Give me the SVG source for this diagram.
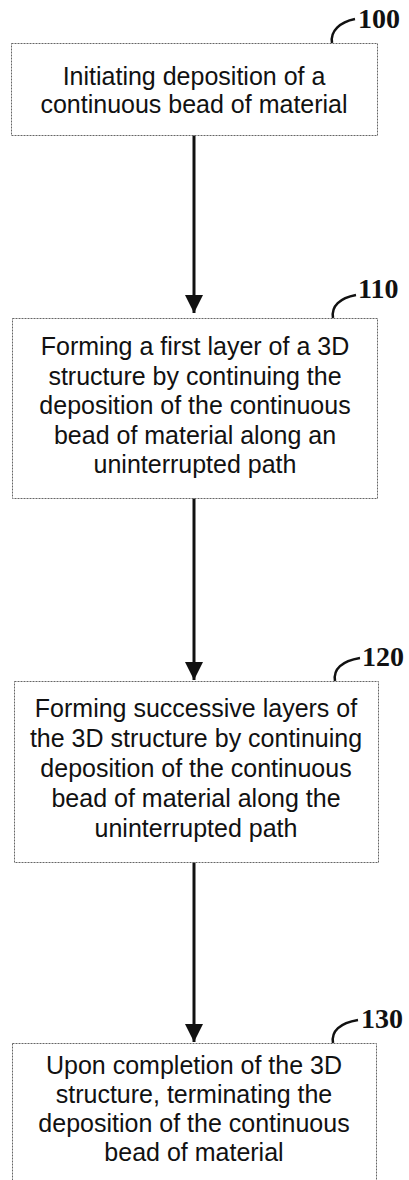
<svg xmlns="http://www.w3.org/2000/svg" width="409" height="1180" viewBox="0 0 409 1180">
<style>
.box{fill:#fff;stroke:#666;stroke-width:1;stroke-dasharray:2,1}
.t{font-family:"Liberation Sans",Arial,sans-serif;font-size:25px;fill:#111;text-anchor:middle}
.ref{font-family:"Liberation Serif","Times New Roman",serif;font-size:28px;font-weight:bold;fill:#111}
.lead{fill:none;stroke:#111;stroke-width:2.5}
.conn{stroke:#111;stroke-width:3;fill:none}
</style>
<defs>
<marker id="ah" markerWidth="6" markerHeight="6" refX="6" refY="3" orient="auto" markerUnits="strokeWidth">
<path d="M0,0 L6,3 L0,6 Z" fill="#111"/>
</marker>
</defs>
<rect width="409" height="1180" fill="#fff"/>
<g id="connectors">
<line class="conn" x1="194" y1="135" x2="194" y2="313" marker-end="url(#ah)"/>
<line class="conn" x1="194" y1="498" x2="194" y2="680" marker-end="url(#ah)"/>
<line class="conn" x1="194" y1="862" x2="194" y2="1042" marker-end="url(#ah)"/>
</g>
<g id="n100">
<rect class="box" x="11.5" y="43.5" width="366" height="92"/>
<path class="lead" d="M332 43 C330 31,340 22,355 19"/>
<text class="ref" x="358" y="28">100</text>
<text class="t" x="194" y="85">Initiating deposition of a</text>
<text class="t" x="194" y="113">continuous bead of material</text>
</g>
<g id="n110">
<rect class="box" x="12.5" y="318.5" width="365" height="180"/>
<path class="lead" d="M333 318 C331 306,340 298,356 295"/>
<text class="ref" x="358" y="298">110</text>
<text class="t" x="195" y="355">Forming a first layer of a 3D</text>
<text class="t" x="195" y="384.5">structure by continuing the</text>
<text class="t" x="195" y="414">deposition of the continuous</text>
<text class="t" x="195" y="443.5">bead of material along an</text>
<text class="t" x="195" y="473">uninterrupted path</text>
</g>
<g id="n120">
<rect class="box" x="14.5" y="681.5" width="364" height="181"/>
<path class="lead" d="M335 681 C333 669,342 661,360 658"/>
<text class="ref" x="362" y="666">120</text>
<text class="t" x="196" y="717">Forming successive layers of</text>
<text class="t" x="196" y="747">the 3D structure by continuing</text>
<text class="t" x="196" y="777">deposition of the continuous</text>
<text class="t" x="196" y="807">bead of material along the</text>
<text class="t" x="196" y="837">uninterrupted path</text>
</g>
<g id="n130">
<rect class="box" x="12.5" y="1043.5" width="364" height="150"/>
<path class="lead" d="M333 1043 C331 1031,340 1023,358 1020"/>
<text class="ref" x="361" y="1028">130</text>
<text class="t" x="194" y="1074">Upon completion of the 3D</text>
<text class="t" x="194" y="1103">structure, terminating the</text>
<text class="t" x="194" y="1132">deposition of the continuous</text>
<text class="t" x="194" y="1161">bead of material</text>
</g>
</svg>
